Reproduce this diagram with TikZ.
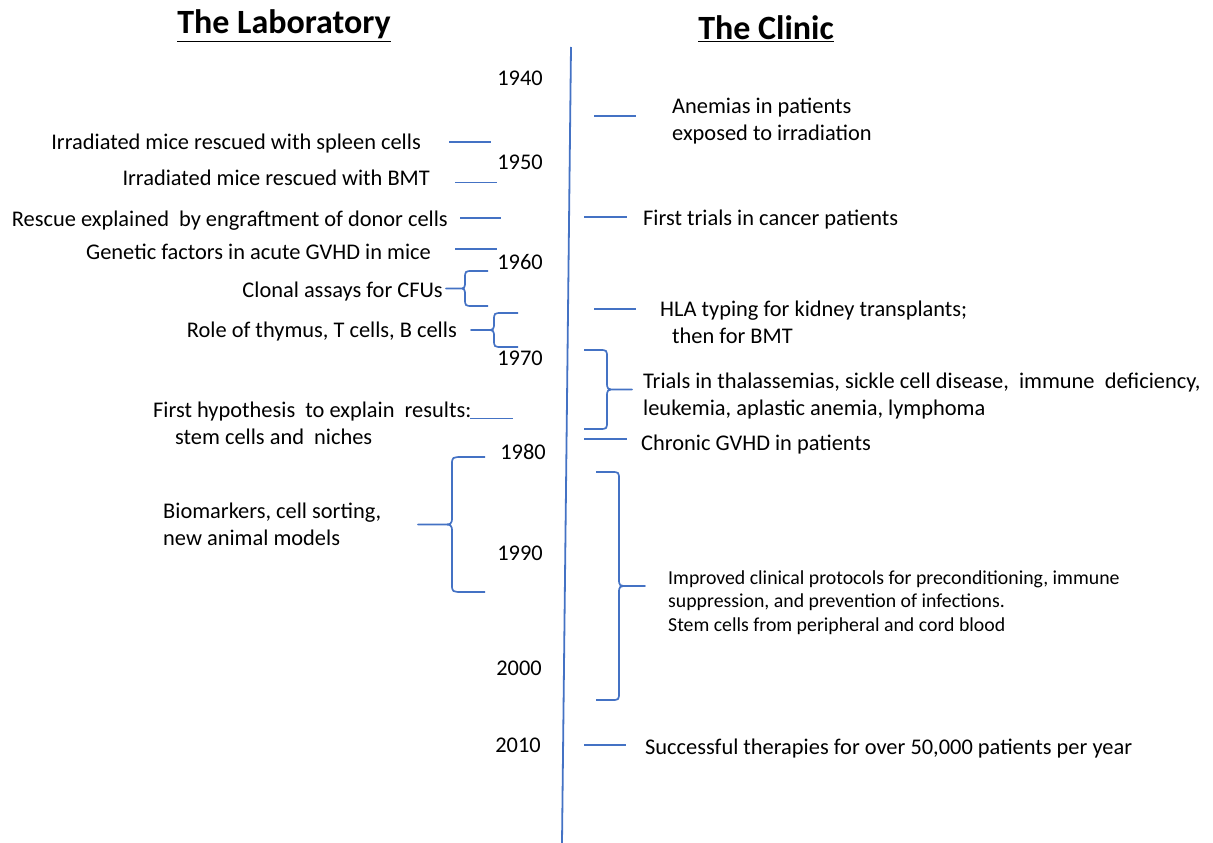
\documentclass[tikz,border=0pt]{standalone}
\usepackage{fontspec}
\setmainfont{Carlito}
\usetikzlibrary{positioning}
\definecolor{lineblue}{RGB}{68,114,196}

% brace: tip x, vertical x, end x, top y, bottom y
\newcommand{\tlbrace}[5]{%
  \draw[brc] (#3,#4) -- ({#2+0.35*(#3-#2)},#4) .. controls (#2,#4) .. (#2,{#4+8})
    -- (#2,{(#4+#5)/2-8}) .. controls (#2,{(#4+#5)/2}) .. ({#2+0.35*(#1-#2)},{(#4+#5)/2})
    -- (#1,{(#4+#5)/2}) -- ({#2+0.35*(#1-#2)},{(#4+#5)/2})
    .. controls (#2,{(#4+#5)/2}) .. (#2,{(#4+#5)/2+8})
    -- (#2,{#5-8}) .. controls (#2,#5) .. ({#2+0.35*(#3-#2)},#5) -- (#3,#5);}

\begin{document}
\begin{tikzpicture}[x=1pt,y=-1pt,
  every node/.style={inner sep=0pt, font=\fontsize{22.4}{27}\selectfont},
  lab/.style={anchor=base east},
  clin/.style={anchor=base west, align=left},
  year/.style={anchor=base},
  small/.style={font=\fontsize{19.8}{23.5}\selectfont},
  title/.style={anchor=base, font=\fontsize{34}{40}\selectfont\bfseries},
  axis/.style={draw=lineblue, line width=1.8pt},
  tick/.style={draw=lineblue, line width=1.7pt},
  brc/.style={draw=lineblue, line width=1.7pt, line join=round}]
\useasboundingbox (0,0) rectangle (1213,843);

% headings
\node[title] (lab) at (284,34) {\underline{The Laboratory}};
\node[title] (clin) at (766,40) {\underline{The Clinic}};

% time axis
\coordinate (top) at (571,47);
\coordinate (bot) at (562,843);
\draw[axis] (top) -- (bot);

% decades
\foreach \yr/\xx/\yy in {1940/520/78, 1950/520/162, 1960/520/262, 1970/520/358,
                         1980/523/452, 1990/520/553, 2000/519/668, 2010/518/745}
  \node[year] (y\yr) at (\xx,\yy+7) {\yr};

% the laboratory
\node[lab] (spleen) at (421,149) {Irradiated mice rescued with spleen cells};
\node[lab] (bmt) at (430,185) {Irradiated mice rescued with BMT};
\node[lab] (rescue) at (448,226) {Rescue explained\ \ by engraftment of donor cells};
\node[lab] (genetic) at (431,259) {Genetic factors in acute GVHD in mice};
\node[lab] (clonal) at (443,297) {Clonal assays for CFUs};
\node[lab] (thymus) at (457,337) {Role of thymus, T cells, B cells};
\node[clin] (hypo) at (153,444) {First hypothesis\ \ to explain\ \ results:\\\hspace*{22pt}stem cells and\ \ niches};
\node[clin] (biomark) at (163,545) {Biomarkers, cell sorting,\\new animal models};

\draw[tick] (449,142) -- (491,142);
\draw[tick, line width=1pt] (455,182) -- (497,182);
\draw[tick] (460,218) -- (501,218);
\draw[tick, line width=2.3pt] (455,249) -- (497,249);
\draw[tick, line width=0.4pt] (470,418) -- (513,418);
\tlbrace{446}{465}{488}{271}{306}
\tlbrace{471}{494}{518}{313}{347}
\tlbrace{418}{452}{485}{457}{592}

% the clinic
\node[clin] (anemia) at (672,140) {Anemias in patients\\exposed to irradiation};
\node[clin] (first) at (643,225) {First trials in cancer patients};
\node[clin] (hla) at (660,343) {HLA typing for kidney transplants;\\\hspace*{12pt}then for BMT};
\node[clin] (trials) at (643,415) {Trials in thalassemias, sickle cell disease,\ \ immune\ \ deficiency,\\leukemia, aplastic anemia, lymphoma};
\node[clin] (chronic) at (641,450) {Chronic GVHD in patients};
\node[clin, small] (protocol) at (668,631) {Improved clinical protocols for preconditioning, immune\\suppression, and prevention of infections.\\Stem cells from peripheral and cord blood};
\node[clin] (success) at (645,754) {Successful therapies for over 50,000 patients per year};

\draw[tick] (594,116) -- (636,116);
\draw[tick] (584,217) -- (627,217);
\draw[tick] (594,309) -- (636,309);
\draw[tick] (584,439) -- (627,439);
\draw[tick] (584,745) -- (626,745);
\tlbrace{632}{607}{584}{350}{429}
\tlbrace{645}{619}{596}{472}{700}
\end{tikzpicture}
\end{document}
